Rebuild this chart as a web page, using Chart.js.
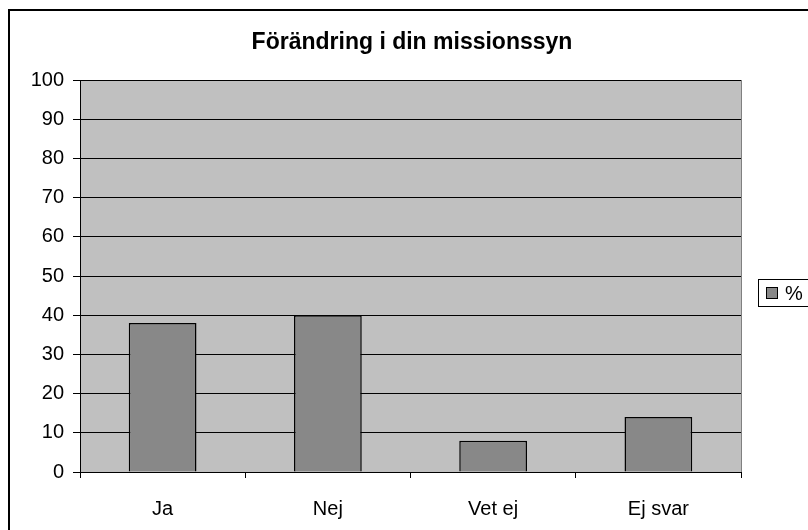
<!DOCTYPE html>
<html>
<head>
<meta charset="utf-8">
<title>Förändring i din missionssyn</title>
<script src="https://cdn.jsdelivr.net/npm/chart.js@4"></script>
<style>
  html, body { margin: 0; padding: 0; background: #ffffff; }
  #wrap { width: 808px; height: 530px; position: relative; }
</style>
</head>
<body>
<div id="wrap"><canvas id="chart" width="808" height="530"></canvas></div>
<script>
var categories = ["Ja", "Nej", "Vet ej", "Ej svar"]; // x axis categories
var percentValues = [38, 40, 8, 14]; // series "%"
var seriesName = "%";
var chartTitle = "Förändring i din missionssyn";
var yTicks = [0, 10, 20, 30, 40, 50, 60, 70, 80, 90, 100];

var FONT = "Arial, 'Liberation Sans', sans-serif";

// draws the outer frame, the gray plot background, the title and the legend box
var excelLook = {
    id: "excelLook",
    beforeDraw: function (chart) {
        var ctx = chart.ctx;
        var a = chart.chartArea;
        ctx.save();
        ctx.fillStyle = "#ffffff";
        ctx.fillRect(0, 0, chart.width, chart.height);
        ctx.fillStyle = "#c0c0c0";
        ctx.fillRect(a.left, a.top, a.right - a.left, a.bottom - a.top);
        ctx.restore();
    },
    afterDraw: function (chart) {
        var ctx = chart.ctx;
        var a = chart.chartArea;
        ctx.save();
        // plot area border on the right side (gray)
        ctx.strokeStyle = "#808080";
        ctx.lineWidth = 1;
        ctx.beginPath();
        ctx.moveTo(Math.round(a.right) + 0.5, a.top);
        ctx.lineTo(Math.round(a.right) + 0.5, a.bottom);
        ctx.stroke();

        // outer frame, runs off the right and bottom edge
        ctx.strokeStyle = "#000000";
        ctx.lineWidth = 2;
        ctx.strokeRect(9, 10, 820, 540);

        // title
        ctx.fillStyle = "#000000";
        ctx.font = "bold 23px " + FONT;
        ctx.textAlign = "center";
        ctx.textBaseline = "middle";
        ctx.fillText(chartTitle, 412, 43);

        // legend
        ctx.lineWidth = 1;
        ctx.strokeStyle = "#000000";
        ctx.fillStyle = "#ffffff";
        ctx.fillRect(758.5, 279.5, 60, 27);
        ctx.strokeRect(758.5, 279.5, 60, 27);
        ctx.fillStyle = "#888888";
        ctx.fillRect(766.5, 287.5, 11, 11);
        ctx.strokeRect(766.5, 287.5, 11, 11);
        ctx.fillStyle = "#000000";
        ctx.font = "20px " + FONT;
        ctx.textAlign = "left";
        ctx.fillText(seriesName, 785, 294);
        ctx.restore();
    }
};

var ctx = document.getElementById("chart").getContext("2d");
var missionChart = new Chart(ctx, {
    type: "bar",
    data: {
        labels: categories,
        datasets: [{
            label: seriesName,
            data: percentValues,
            backgroundColor: "#888888",
            borderColor: "#000000",
            borderWidth: 1.5,
            categoryPercentage: 1.0,
            barPercentage: 0.41
        }]
    },
    options: {
        responsive: false,
        animation: false,
        layout: {
            padding: { left: 0, top: 80, right: 67, bottom: 0 }
        },
        plugins: {
            legend: { display: false },
            title: { display: false },
            tooltip: { enabled: false }
        },
        scales: {
            x: {
                offset: true,
                grid: {
                    offset: true,
                    drawOnChartArea: false,
                    color: "#000000",
                    tickLength: 6
                },
                border: { color: "#000000", width: 1 },
                ticks: {
                    color: "#000000",
                    font: { family: FONT, size: 20 },
                    padding: 19,
                    maxRotation: 0
                },
                afterFit: function (scale) { scale.height = 58; }
            },
            y: {
                min: 0,
                max: 100,
                afterBuildTicks: function (scale) {
                    scale.ticks = yTicks.map(function (v) { return { value: v }; });
                },
                grid: {
                    color: "#000000",
                    lineWidth: 1,
                    tickLength: 7
                },
                border: { color: "#000000", width: 1 },
                ticks: {
                    color: "#000000",
                    font: { family: FONT, size: 20 },
                    padding: 9
                },
                afterFit: function (scale) { scale.width = 80; }
            }
        }
    },
    plugins: [excelLook]
});
</script>
</body>
</html>
